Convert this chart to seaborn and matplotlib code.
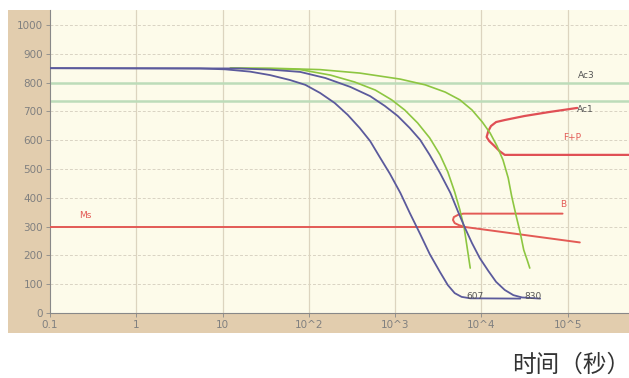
import numpy as np
import pandas as pd
import matplotlib
matplotlib.use("Agg")
import matplotlib.pyplot as plt
from matplotlib.patches import Rectangle
import seaborn as sns

# ---- curve data: time as log10(seconds), temperature in degC ----
blue1_logt = [-1, 0.74, 1.03, 1.32, 1.55, 1.78, 1.96, 2.13, 2.30, 2.45, 2.59, 2.71, 2.82, 2.94,
              3.06, 3.17, 3.29, 3.40, 3.52, 3.61, 3.69, 3.77, 3.87, 4.45]
blue1_temp = [850, 849, 846, 838, 826, 809, 792, 764, 729, 688, 642, 597, 542, 483,
              417, 347, 274, 205, 142, 97, 69, 56, 51, 50]

blue2_logt = [-1, 1.20, 1.55, 1.90, 2.19, 2.48, 2.71, 2.88, 3.03, 3.17, 3.29, 3.40, 3.52,
              3.64, 3.73, 3.81, 3.89, 3.98, 4.08, 4.17, 4.27, 4.37, 4.47, 4.68]
blue2_temp = [850, 849, 845, 837, 816, 785, 753, 719, 684, 642, 601, 549, 486,
              417, 351, 295, 243, 191, 146, 108, 80, 62, 54, 50]

green1_logt = [1.09, 1.55, 1.90, 2.25, 2.53, 2.77, 2.96, 3.11, 3.26, 3.40, 3.52, 3.61,
               3.69, 3.75, 3.80, 3.83, 3.87]
green1_temp = [850, 849, 845, 826, 802, 774, 740, 705, 660, 608, 549, 490,
               420, 358, 295, 236, 156]

green2_logt = [1.09, 1.67, 2.13, 2.59, 3.06, 3.35, 3.58, 3.75, 3.89, 4.01, 4.10, 4.18,
               4.25, 4.31, 4.35, 4.40, 4.45, 4.49, 4.53, 4.56]
green2_temp = [850, 849, 845, 833, 812, 792, 767, 740, 705, 663, 625, 580,
               531, 469, 406, 340, 278, 219, 184, 156]

# ferrite + pearlite nose (upper branch -> nose -> lower branch)
fp_logt = [5.11, 4.79, 4.50, 4.27, 4.17, 4.11, 4.08, 4.06, 4.09, 4.15, 4.21, 4.27, 5.71]
fp_temp = [712, 698, 684, 670, 663, 649, 632, 611, 597, 580, 562, 549, 549]

# bainite nose, joining the sloped part of Ms
b_logt = [4.94, 3.79, 3.73, 3.68, 3.67, 3.69, 3.74, 3.80, 5.14]
b_temp = [345, 345, 341, 333, 323, 312, 305, 299, 245]

ms_logt = [-1, 3.80]
ms_temp = [300, 300]

ac3_temp = 800
ac1_temp = 735

ytick_vals = [0, 100, 200, 300, 400, 500, 600, 700, 800, 900, 1000]
xtick_exp = [-1, 0, 1, 2, 3, 4, 5]
xtick_labels = ["0.1", "1", "10", "10^2", "10^3", "10^4", "10^5"]

# ---- style ----
sns.set_theme(style="white")
plt.rcParams["font.family"] = ["DejaVu Sans", "Noto Sans CJK SC"]

fig = plt.figure(figsize=(6.29, 3.78), dpi=100)
fig.patch.set_facecolor("white")

# tan frame behind the plot
frame = Rectangle((8 / 629, 1 - 333 / 378), 1 - 8 / 629, 323 / 378,
                  transform=fig.transFigure, facecolor="#e2cdae",
                  edgecolor="none", zorder=-5)
fig.add_artist(frame)

ax = fig.add_axes([50 / 629, 1 - 313 / 378, 1 - 50 / 629, 303 / 378])
ax.set_zorder(2)
ax.set_facecolor("#fdfbea")
ax.set_xscale("log")
ax.set_xlim(0.1, 10 ** 5.71)
ax.set_ylim(0, 1052)

# grid
for y in ytick_vals:
    ax.axhline(y, color="#d9d3c3", lw=0.7, ls=(0, (3, 2)), zorder=1)
for e in xtick_exp[1:]:
    ax.axvline(10.0 ** e, color="#dcd4bf", lw=0.9, zorder=1)

# Ac3 / Ac1 lines
ax.axhline(ac3_temp, color="#bddcb9", lw=1.8, zorder=2)
ax.axhline(ac1_temp, color="#bddcb9", lw=1.8, zorder=2)

def draw(logt, temp, color, lw=1.2):
    d = pd.DataFrame({"t": np.power(10.0, logt), "T": temp})
    sns.lineplot(data=d, x="t", y="T", sort=False, estimator=None,
                 color=color, lw=lw, ax=ax, zorder=3)

draw(ms_logt, ms_temp, "#e35a55", 1.4)
draw(b_logt, b_temp, "#e35a55", 1.4)
draw(fp_logt, fp_temp, "#e04f55", 1.6)
draw(green2_logt, green2_temp, "#8dc641", 1.2)
draw(green1_logt, green1_temp, "#8dc641", 1.2)
draw(blue2_logt, blue2_temp, "#5b5a9c", 1.3)
draw(blue1_logt, blue1_temp, "#5b5a9c", 1.3)

# labels on the chart
lab = dict(fontsize=6.5, color="#555555", zorder=5)
ax.text(10 ** -0.59, 337, "Ms", color="#e35a55", fontsize=6.5, ha="center", va="center")
ax.text(10 ** 4.95, 375, "B", color="#e35a55", fontsize=6.5, ha="center", va="center")
ax.text(10 ** 5.05, 611, "F+P", color="#e35a55", fontsize=6.5, ha="center", va="center")
ax.text(10 ** 5.22, 823, "Ac3", ha="center", va="center", **lab)
ax.text(10 ** 5.2, 707, "Ac1", ha="center", va="center", **lab)
ax.text(10 ** 3.92, 57, "607", ha="center", va="center", **lab)
ax.text(10 ** 4.6, 57, "830", ha="center", va="center", **lab)

# axes, ticks
ax.set_yticks(ytick_vals)
ax.set_yticklabels([str(v) for v in ytick_vals], fontsize=7.5, color="#808080")
ax.set_xticks([10.0 ** e for e in xtick_exp])
ax.set_xticklabels(xtick_labels, fontsize=7.5, color="#808080")
ax.xaxis.set_minor_locator(matplotlib.ticker.NullLocator())
ax.tick_params(axis="both", which="major", length=3, width=0.6, color="#888888",
               direction="out", pad=2, left=True, bottom=True)
for s in ["top", "right"]:
    ax.spines[s].set_visible(False)
for s in ["left", "bottom"]:
    ax.spines[s].set_color("#888888")
    ax.spines[s].set_linewidth(0.8)
ax.set_xlabel("")
ax.set_ylabel("")

fig.text(0.908, 0.034, "时间（秒）", fontsize=17, color="#333333",
         ha="center", va="center", family=["Noto Sans CJK SC", "DejaVu Sans"])

fig.savefig("out.png", dpi=100)
